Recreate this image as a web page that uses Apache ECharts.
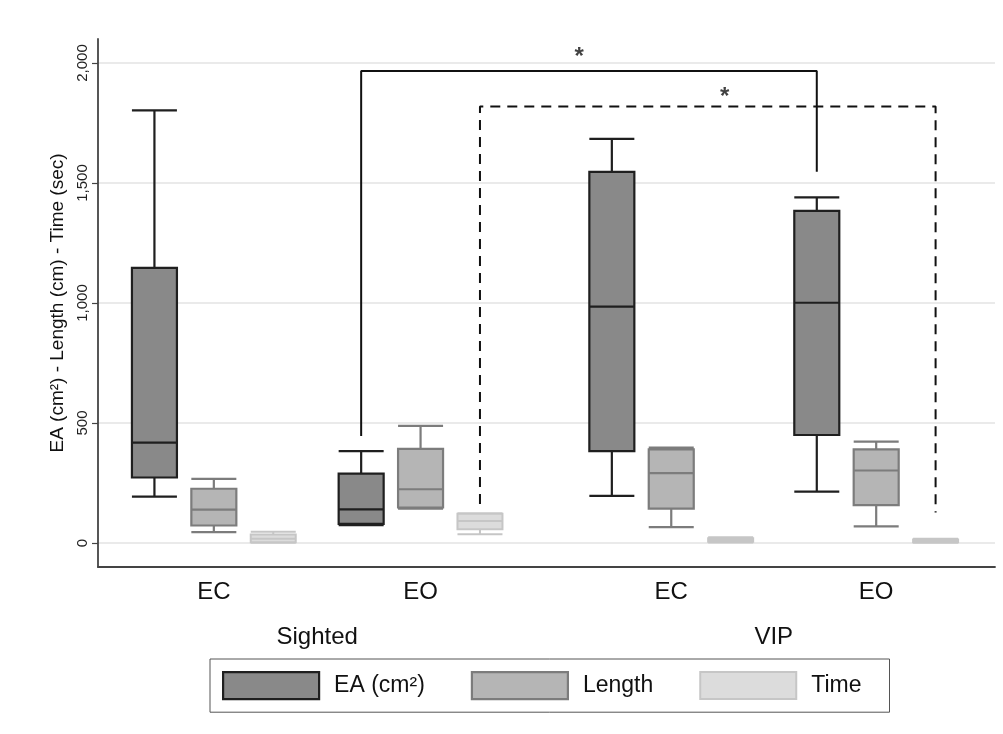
<!DOCTYPE html>
<html><head><meta charset="utf-8">
<script src="https://cdn.jsdelivr.net/npm/echarts@6/dist/echarts.min.js"></script>
<style>html,body{margin:0;padding:0;background:#fff}#chart{width:1003px;height:734px}</style>
</head><body><div id="chart"></div>
<script>
// ---------------- data ----------------
const groupLabels = ['EC', 'EO', 'EC', 'EO'];
const conditionLabels = ['Sighted', 'VIP'];
const seriesNames = ['EA (cm²)', 'Length', 'Time'];
// each row: [min, Q1, median, Q3, max] for Sighted-EC, Sighted-EO, VIP-EC, VIP-EO
const eaStats = [[193, 273, 418, 1146, 1803], [74, 80, 140, 289, 383], [196, 383, 985, 1546, 1684], [214, 450, 1001, 1384, 1440]];
const lengthStats = [[45, 73, 139, 226, 267], [143, 148, 224, 392, 488], [66, 143, 291, 390, 397], [69, 158, 302, 390, 422]];
const timeStats = [[1, 3, 18, 35, 47], [36, 57, 92, 122, 124], [2, 5, 12, 20, 24], [1, 3, 8, 15, 18]];
const yTicks = [0, 500, 1000, 1500, 2000];
// significance brackets: from/to = [group index, series index]; ends = lower y of each leg; top = y of bar
const sigBrackets = [
  { from: [1, 0], to: [3, 0], ends: [446, 1547], top: 1967, dashed: false },
  { from: [1, 2], to: [3, 2], ends: [162, 127], top: 1819, dashed: true }
];
const sigStars = [[8.1, 2040], [10.55, 1874]];

// ---------------- layout ----------------
const groupCenters = [1.95, 5.43, 9.65, 13.1];
const slotOffsets = [-1, 0, 1];
const X_MAX = 15.1;
const FONT = 'Liberation Sans, Arial, Helvetica, sans-serif';
const styles = [
  { color: '#898989', borderColor: '#1f1f1f', borderWidth: 2.2 },
  { color: '#b5b5b5', borderColor: '#7c7c7c', borderWidth: 2.2 },
  { color: '#dcdcdc', borderColor: '#c6c6c6', borderWidth: 2 }
];
const statsList = [eaStats, lengthStats, timeStats];
const xPos = (g, s) => groupCenters[g] + slotOffsets[s];
const condCenters = [(groupCenters[0] + groupCenters[1]) / 2, (groupCenters[2] + groupCenters[3]) / 2];
const nearestIdx = (arr, v) => { let b = 0; arr.forEach((a, i) => { if (Math.abs(a - v) < Math.abs(arr[b] - v)) b = i; }); return b; };

const baseX = { type: 'value', min: 0, max: X_MAX, gridIndex: 0, splitLine: { show: false } };
const xAxes = [
  Object.assign({}, baseX, {
    position: 'bottom',
    axisLine: { show: true, onZero: false, lineStyle: { color: '#444', width: 1.8 } },
    axisTick: { show: false },
    axisLabel: { customValues: groupCenters, formatter: v => groupLabels[nearestIdx(groupCenters, v)],
      fontFamily: FONT, fontSize: 24, color: '#111', margin: 13 }
  }),
  Object.assign({}, baseX, { show: false, axisLine: { onZero: false } }),
  Object.assign({}, baseX, { show: false, axisLine: { onZero: false } }),
  Object.assign({}, baseX, {
    position: 'bottom',
    axisLine: { show: false, onZero: false }, axisTick: { show: false },
    axisLabel: { customValues: condCenters, formatter: v => conditionLabels[nearestIdx(condCenters, v)],
      fontFamily: FONT, fontSize: 24, color: '#111', margin: 58 }
  })
];

const series = statsList.map((st, k) => ({
  type: 'boxplot', name: seriesNames[k], layout: 'horizontal',
  xAxisIndex: k, yAxisIndex: 0, z: 3,
  boxWidth: [45, 45],
  itemStyle: styles[k],
  emphasis: { disabled: true },
  data: st.map((s, g) => [xPos(g, k)].concat(s))
}));

sigBrackets.forEach(b => {
  const x1 = xPos(b.from[0], b.from[1]), x2 = xPos(b.to[0], b.to[1]);
  series.push({
    type: 'line', xAxisIndex: 0, yAxisIndex: 0, silent: true, symbol: 'none', z: 4,
    lineStyle: { color: '#111', width: 2, type: b.dashed ? [10, 7] : 'solid' },
    data: [[x1, b.ends[0]], [x1, b.top], [x2, b.top], [x2, b.ends[1]]]
  });
});
series.push({
  type: 'scatter', xAxisIndex: 0, yAxisIndex: 0, silent: true, symbolSize: 1,
  itemStyle: { color: 'rgba(0,0,0,0)' },
  label: { show: true, position: 'inside', formatter: '*', fontFamily: FONT, fontSize: 24, fontWeight: 'bold', color: '#111', offset: [0, 4] },
  data: sigStars
});

const chart = echarts.init(document.getElementById('chart'), null, { renderer: 'canvas' });
chart.setOption({
  animation: false,
  backgroundColor: '#fff',
  grid: { left: 98, right: 8, top: 39, bottom: 167, containLabel: false },
  xAxis: xAxes,
  yAxis: {
    type: 'value', min: -100, max: 2100,
    name: 'EA (cm²) - Length (cm) - Time (sec)', nameLocation: 'middle', nameGap: 27,
    nameTextStyle: { fontFamily: FONT, fontSize: 19, color: '#111' },
    axisLine: { show: true, onZero: false, lineStyle: { color: '#444', width: 1.8 } },
    axisTick: { show: true, customValues: yTicks, length: 6, lineStyle: { color: '#444', width: 1.2 } },
    axisLabel: { customValues: yTicks, rotate: 90, fontFamily: FONT, fontSize: 15, color: '#222', margin: 8,
      formatter: v => Number(v).toLocaleString('en-US') },
    splitLine: { show: true, lineStyle: { color: '#e3e3e3', width: 1.5 } }
  },
  legend: {
    data: seriesNames.map((n, k) => ({ name: n, icon: 'rect', itemStyle: styles[k] })),
    left: 210, top: 659, orient: 'horizontal',
    itemWidth: 96, itemHeight: 27, itemGap: 46,
    borderColor: '#555', borderWidth: 1, padding: [12, 28, 12, 12],
    selectedMode: false,
    textStyle: { fontFamily: FONT, fontSize: 23, color: '#111', padding: [0, 0, 0, 10] }
  },
  tooltip: { show: false },
  series: series
});
</script></body></html>
